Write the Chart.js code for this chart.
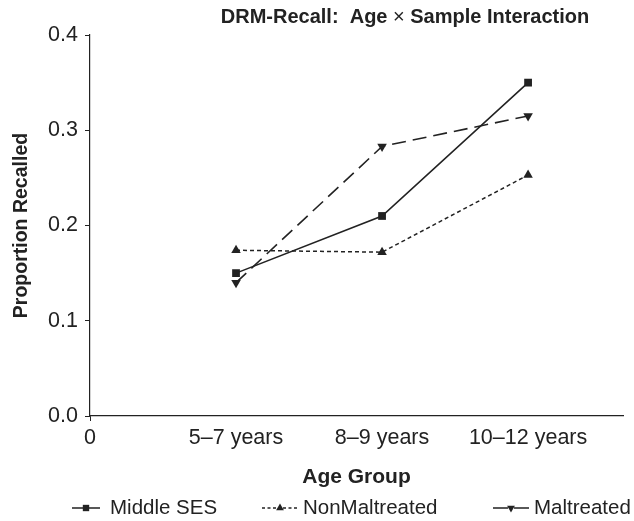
<!DOCTYPE html>
<html>
<head>
<meta charset="utf-8">
<script src="https://cdn.jsdelivr.net/npm/chart.js@4"></script>
<style>
  html, body { margin: 0; padding: 0; background: #fff; }
  #c { display: block; }
</style>
</head>
<body>
<canvas id="c" width="634" height="521"></canvas>
<script>
// ---- data ----
const ageGroups = ['5–7 years', '8–9 years', '10–12 years'];
const xTickLabels = ['0', '5–7 years', '8–9 years', '10–12 years'];
const yTickValues = [0.0, 0.1, 0.2, 0.3, 0.4];
const seriesNames = ['Middle SES', 'NonMaltreated', 'Maltreated'];
const middleSES = [0.150, 0.210, 0.350];
const nonMaltreated = [0.174, 0.172, 0.253];
const maltreated = [0.140, 0.283, 0.315];

const INK = '#222';
const FONT = '"Liberation Sans", Arial, Helvetica, sans-serif';

function toPoints(values) {
  return values.map((v, i) => ({ x: i + 1, y: v }));
}

const titlePlugin = {
  id: 'customTitle',
  afterDraw(chart) {
    const ctx = chart.ctx;
    const parts = [
      { t: 'DRM-Recall:  Age ', f: 'bold 20px ' + FONT },
      { t: '×', f: '20px ' + FONT },
      { t: ' Sample Interaction', f: 'bold 20px ' + FONT }
    ];
    ctx.save();
    let total = 0;
    parts.forEach(p => { ctx.font = p.f; p.w = ctx.measureText(p.t).width; total += p.w; });
    let x = 405 - total / 2;
    ctx.fillStyle = INK;
    ctx.textBaseline = 'middle';
    ctx.textAlign = 'left';
    parts.forEach(p => { ctx.font = p.f; ctx.fillText(p.t, x, 17); x += p.w; });
    ctx.restore();
  }
};

const legendPlugin = {
  id: 'customLegend',
  afterDraw(chart) {
    const ctx = chart.ctx;
    const slots = [
      { x0: 72, x1: 100, tx: 110 },
      { x0: 262, x1: 298, tx: 303 },
      { x0: 493, x1: 529, tx: 534 }
    ];
    const y = 508;
    ctx.save();
    chart.data.datasets.forEach((ds, i) => {
      const s = slots[i];
      const cx = (s.x0 + s.x1) / 2;
      ctx.strokeStyle = INK;
      ctx.fillStyle = INK;
      ctx.lineWidth = 1.6;
      ctx.setLineDash(ds.legendDash || []);
      ctx.beginPath();
      ctx.moveTo(s.x0, y);
      ctx.lineTo(cx - 3, y);
      ctx.moveTo(cx + 3, y);
      ctx.lineTo(s.x1, y);
      ctx.stroke();
      ctx.setLineDash([]);
      Chart.helpers.drawPoint(ctx, {
        pointStyle: ds.pointStyle,
        rotation: ds.pointRotation || 0,
        radius: 4.5,
        borderWidth: 0
      }, cx, y);
      ctx.font = '20.5px ' + FONT;
      ctx.textBaseline = 'middle';
      ctx.textAlign = 'left';
      ctx.fillText(ds.label, s.tx, y);
    });
    ctx.restore();
  }
};

new Chart(document.getElementById('c'), {
  type: 'line',
  data: {
    datasets: [
      {
        label: seriesNames[0],
        data: toPoints(middleSES),
        borderColor: INK, backgroundColor: INK,
        borderWidth: 1.6,
        pointStyle: 'rect', pointRadius: 5.5, pointBorderWidth: 0,
        pointBackgroundColor: INK
      },
      {
        label: seriesNames[1],
        data: toPoints(nonMaltreated),
        borderColor: INK, backgroundColor: INK,
        borderWidth: 1.5,
        borderDash: [4, 3],
        legendDash: [3, 2.5],
        pointStyle: 'triangle', pointRadius: 5.5, pointBorderWidth: 0,
        pointBackgroundColor: INK
      },
      {
        label: seriesNames[2],
        data: toPoints(maltreated),
        borderColor: INK, backgroundColor: INK,
        borderWidth: 1.6,
        borderDash: [14, 7],
        pointStyle: 'triangle', pointRotation: 180, pointRadius: 5.5, pointBorderWidth: 0,
        pointBackgroundColor: INK
      }
    ]
  },
  options: {
    responsive: false,
    animation: false,
    devicePixelRatio: 1,
    layout: { padding: { top: 35, right: 11, left: 0, bottom: 0 } },
    plugins: {
      legend: { display: false },
      title: { display: false },
      tooltip: { enabled: false }
    },
    elements: { line: { tension: 0, fill: false } },
    scales: {
      x: {
        type: 'linear',
        min: 0,
        max: 3.65,
        afterFit(scale) { scale.height = 105; },
        afterBuildTicks(scale) {
          scale.ticks = xTickLabels.map((_, i) => ({ value: i }));
        },
        ticks: {
          autoSkip: false,
          maxRotation: 0,
          padding: 4,
          color: INK,
          font: { family: FONT, size: 21.5 },
          callback: (v) => xTickLabels[Math.round(v)] ?? ''
        },
        grid: {
          drawOnChartArea: false,
          drawTicks: true,
          tickLength: 5,
          color: (c) => (c.tick && c.tick.value === 0 ? INK : 'rgba(0,0,0,0)')
        },
        border: { color: INK, width: 1.2 },
        title: {
          display: true,
          text: 'Age Group',
          color: INK,
          font: { family: FONT, size: 21, weight: 'bold' },
          padding: { top: 0, bottom: 31 }
        }
      },
      y: {
        min: 0,
        max: 0.4,
        afterFit(scale) { scale.width = 90; },
        afterBuildTicks(scale) {
          scale.ticks = yTickValues.map(v => ({ value: v }));
        },
        ticks: {
          padding: 7,
          color: INK,
          font: { family: FONT, size: 21.5 },
          callback: (v) => Number(v).toFixed(1)
        },
        grid: {
          drawOnChartArea: false,
          drawTicks: true,
          tickLength: 5,
          color: INK
        },
        border: { color: INK, width: 1.2 },
        title: {
          display: true,
          text: 'Proportion Recalled',
          color: INK,
          font: { family: FONT, size: 19.5, weight: 'bold' },
          padding: { top: 10, bottom: 0 }
        }
      }
    }
  },
  plugins: [titlePlugin, legendPlugin]
});
</script>
</body>
</html>
